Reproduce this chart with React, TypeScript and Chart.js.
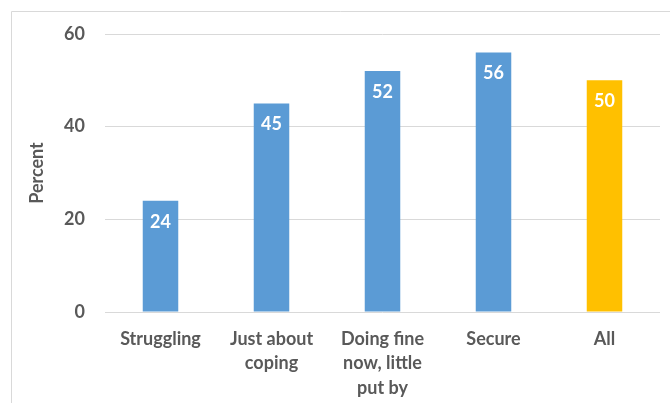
import React, { useEffect, useRef } from "react";
import { Chart, registerables } from "chart.js";

Chart.register(...registerables);

const categories: string[][] = [
  ["Struggling"],
  ["Just about", "coping"],
  ["Doing fine", "now, little", "put by"],
  ["Secure"],
  ["All"],
];
const values: number[] = [24, 45, 52, 56, 50];
const barColors: string[] = ["#5B9BD5", "#5B9BD5", "#5B9BD5", "#5B9BD5", "#FFC000"];
const yTicks: number[] = [0, 20, 40, 60];
const yTitle = "Percent";

const FONT = "Lato, 'Open Sans', sans-serif";
const GRAY = "#595959";

const framePlugin = {
  id: "frame",
  beforeDraw(chart: any) {
    const ctx = chart.ctx;
    ctx.save();
    ctx.strokeStyle = "#D9D9D9";
    ctx.lineWidth = 1;
    ctx.beginPath();
    ctx.moveTo(11.5, chart.height);
    ctx.lineTo(11.5, 11.5);
    ctx.lineTo(chart.width, 11.5);
    ctx.stroke();
    ctx.restore();
  },
};

const labelPlugin = {
  id: "barLabels",
  afterDatasetsDraw(chart: any) {
    const ctx = chart.ctx;
    const meta = chart.getDatasetMeta(0);
    ctx.save();
    ctx.fillStyle = "#FFFFFF";
    ctx.font = `bold 18px ${FONT}`;
    ctx.textAlign = "center";
    ctx.textBaseline = "middle";
    meta.data.forEach((bar: any, i: number) => {
      ctx.fillText(String(values[i]), bar.x, bar.y + 21);
    });
    ctx.restore();
  },
};

export default function App() {
  const ref = useRef<HTMLCanvasElement>(null);
  useEffect(() => {
    document.body.style.margin = "0";
    const chart = new Chart(ref.current!, {
      type: "bar",
      data: {
        labels: categories,
        datasets: [
          {
            data: values,
            backgroundColor: barColors,
            borderWidth: 0,
            barPercentage: 0.32,
            categoryPercentage: 1,
          },
        ],
      },
      options: {
        animation: false,
        responsive: false,
        layout: { padding: { top: 34, right: 10, left: 0, bottom: 0 } },
        plugins: { legend: { display: false }, tooltip: { enabled: false } },
        scales: {
          x: {
            grid: { display: false, drawTicks: false },
            border: { display: false },
            ticks: {
              color: GRAY,
              font: { family: FONT, size: 18, weight: "bold", lineHeight: 1.35 },
              padding: 15,
              maxRotation: 0,
              autoSkip: false,
            },
            afterFit: (s: any) => {
              s.height = 403 - 312;
            },
          },
          y: {
            min: 0,
            max: 60,
            afterBuildTicks: (s: any) => {
              s.ticks = yTicks.map((v) => ({ value: v }));
            },
            grid: { color: "#D9D9D9", drawTicks: false, lineWidth: 1 },
            border: { display: false },
            ticks: {
              color: GRAY,
              font: { family: FONT, size: 18, weight: "bold" },
              padding: 20,
            },
            title: {
              display: true,
              text: yTitle,
              color: GRAY,
              font: { family: FONT, size: 18, weight: "bold" },
              padding: { top: 26, bottom: 0 },
            },
            afterFit: (s: any) => {
              s.width = 105;
            },
          },
        },
      },
      plugins: [framePlugin, labelPlugin],
    });
    return () => chart.destroy();
  }, []);
  return <canvas ref={ref} width={670} height={403} style={{ display: "block" }} />;
}
